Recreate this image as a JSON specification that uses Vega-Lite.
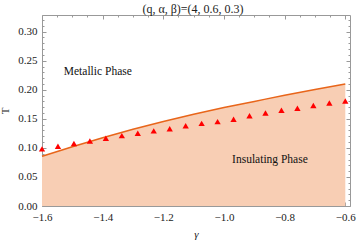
{
  "$schema": "https://vega.github.io/schema/vega-lite/v6.json",
  "autosize": "none",
  "width": 308,
  "height": 191,
  "padding": {"left": 42, "top": 15, "right": 7, "bottom": 36},
  "background": "white",
  "title": {"text": "(q, α, β)=(4, 0.6, 0.3)", "font": "Liberation Serif", "fontSize": 12, "fontWeight": "normal", "color": "#222", "anchor": "middle", "offset": -1, "dx": -3},
  "config": {"view": {"stroke": null}},
  "datasets": {
    "curve": [
      {"gamma": -1.6, "T": 0.0855},
      {"gamma": -1.5, "T": 0.102},
      {"gamma": -1.4, "T": 0.1175},
      {"gamma": -1.3, "T": 0.132},
      {"gamma": -1.2, "T": 0.1455},
      {"gamma": -1.1, "T": 0.158},
      {"gamma": -1.0, "T": 0.1695},
      {"gamma": -0.9, "T": 0.18},
      {"gamma": -0.8, "T": 0.1905},
      {"gamma": -0.7, "T": 0.2005},
      {"gamma": -0.6, "T": 0.21}
    ],
    "pts": [
      {"gamma": -1.6, "T": 0.0983},
      {"gamma": -1.5474, "T": 0.1027},
      {"gamma": -1.4947, "T": 0.1075},
      {"gamma": -1.4421, "T": 0.1118},
      {"gamma": -1.3895, "T": 0.1164},
      {"gamma": -1.3368, "T": 0.1211},
      {"gamma": -1.2842, "T": 0.1251},
      {"gamma": -1.2316, "T": 0.1293},
      {"gamma": -1.1789, "T": 0.1331},
      {"gamma": -1.1263, "T": 0.1383},
      {"gamma": -1.0737, "T": 0.1422},
      {"gamma": -1.0211, "T": 0.1452},
      {"gamma": -0.9684, "T": 0.1491},
      {"gamma": -0.9158, "T": 0.1555},
      {"gamma": -0.8632, "T": 0.1602},
      {"gamma": -0.8105, "T": 0.1647},
      {"gamma": -0.7579, "T": 0.1683},
      {"gamma": -0.7053, "T": 0.1729},
      {"gamma": -0.6526, "T": 0.1773},
      {"gamma": -0.6, "T": 0.1807}
    ],
    "labels": [
      {"gamma": -1.416, "T": 0.231, "label": "Metallic Phase"},
      {"gamma": -0.8485, "T": 0.080, "label": "Insulating Phase"}
    ]
  },
  "resolve": {"axis": {"x": "independent", "y": "independent"}},
  "layer": [
    {
      "data": {"name": "curve"},
      "mark": {"type": "area", "color": "#F8CEB4", "interpolate": "monotone"},
      "encoding": {
        "x": {"field": "gamma", "type": "quantitative",
          "scale": {"domain": [-1.6, -0.5845], "nice": false, "zero": false},
          "axis": {"orient": "bottom", "values": [-1.6, -1.4, -1.2, -1.0, -0.8, -0.6], "format": ".1f",
            "tickSize": -4, "tickColor": "#999", "domainColor": "#999", "labelPadding": 9, "labelFlush": false, "labelOverlap": false,
            "labelFont": "Liberation Serif", "labelFontSize": 11, "labelColor": "#222", "grid": false,
            "title": "γ", "titleFont": "Liberation Serif", "titleFontStyle": "italic", "titleFontWeight": "normal", "titleFontSize": 11, "titleColor": "#222", "titlePadding": 6}},
        "y": {"field": "T", "type": "quantitative",
          "scale": {"domain": [0, 0.3287], "nice": false, "zero": false},
          "axis": {"orient": "left", "values": [0, 0.05, 0.1, 0.15, 0.2, 0.25, 0.3], "format": ".2f",
            "tickSize": -4, "tickColor": "#999", "domainColor": "#999", "labelPadding": 9, "labelFlush": false, "labelOverlap": false,
            "labelFont": "Liberation Serif", "labelFontSize": 11, "labelColor": "#222", "grid": false,
            "title": "T", "titleFont": "Liberation Serif", "titleFontWeight": "normal", "titleFontSize": 11, "titleColor": "#222", "titlePadding": 7}}
      }
    },
    {
      "data": {"name": "curve"},
      "mark": {"type": "line", "color": "#E8651A", "strokeWidth": 1.5, "interpolate": "monotone"},
      "encoding": {
        "x": {"field": "gamma", "type": "quantitative",
          "axis": {"orient": "bottom", "values": [-1.55, -1.5, -1.45, -1.35, -1.3, -1.25, -1.15, -1.1, -1.05, -0.95, -0.9, -0.85, -0.75, -0.7, -0.65],
            "tickSize": -2, "tickColor": "#999", "domain": false, "labels": false, "grid": false, "title": null}},
        "y": {"field": "T", "type": "quantitative",
          "axis": {"orient": "left", "values": [0.01, 0.02, 0.03, 0.04, 0.06, 0.07, 0.08, 0.09, 0.11, 0.12, 0.13, 0.14, 0.16, 0.17, 0.18, 0.19, 0.21, 0.22, 0.23, 0.24, 0.26, 0.27, 0.28, 0.29, 0.31, 0.32],
            "tickSize": -2, "tickColor": "#999", "domain": false, "labels": false, "grid": false, "title": null}}
      }
    },
    {
      "data": {"name": "pts"},
      "mark": {"type": "point", "shape": "triangle-up", "filled": true, "color": "#FF0000", "size": 40, "opacity": 1},
      "encoding": {
        "x": {"field": "gamma", "type": "quantitative",
          "axis": {"orient": "top", "values": [-1.6, -1.4, -1.2, -1.0, -0.8, -0.6],
            "tickSize": -4, "tickColor": "#999", "domainColor": "#999", "labels": false, "grid": false, "title": null}},
        "y": {"field": "T", "type": "quantitative",
          "axis": {"orient": "right", "values": [0, 0.05, 0.1, 0.15, 0.2, 0.25, 0.3],
            "tickSize": -4, "tickColor": "#999", "domainColor": "#999", "labels": false, "grid": false, "title": null}}
      }
    },
    {
      "data": {"name": "labels"},
      "mark": {"type": "text", "font": "Liberation Serif", "fontSize": 11.5, "color": "#111"},
      "encoding": {
        "x": {"field": "gamma", "type": "quantitative",
          "axis": {"orient": "top", "values": [-1.55, -1.5, -1.45, -1.35, -1.3, -1.25, -1.15, -1.1, -1.05, -0.95, -0.9, -0.85, -0.75, -0.7, -0.65],
            "tickSize": -2, "tickColor": "#999", "domain": false, "labels": false, "grid": false, "title": null}},
        "y": {"field": "T", "type": "quantitative",
          "axis": {"orient": "right", "values": [0.01, 0.02, 0.03, 0.04, 0.06, 0.07, 0.08, 0.09, 0.11, 0.12, 0.13, 0.14, 0.16, 0.17, 0.18, 0.19, 0.21, 0.22, 0.23, 0.24, 0.26, 0.27, 0.28, 0.29, 0.31, 0.32],
            "tickSize": -2, "tickColor": "#999", "domain": false, "labels": false, "grid": false, "title": null}},
        "text": {"field": "label", "type": "nominal"}
      }
    }
  ]
}
